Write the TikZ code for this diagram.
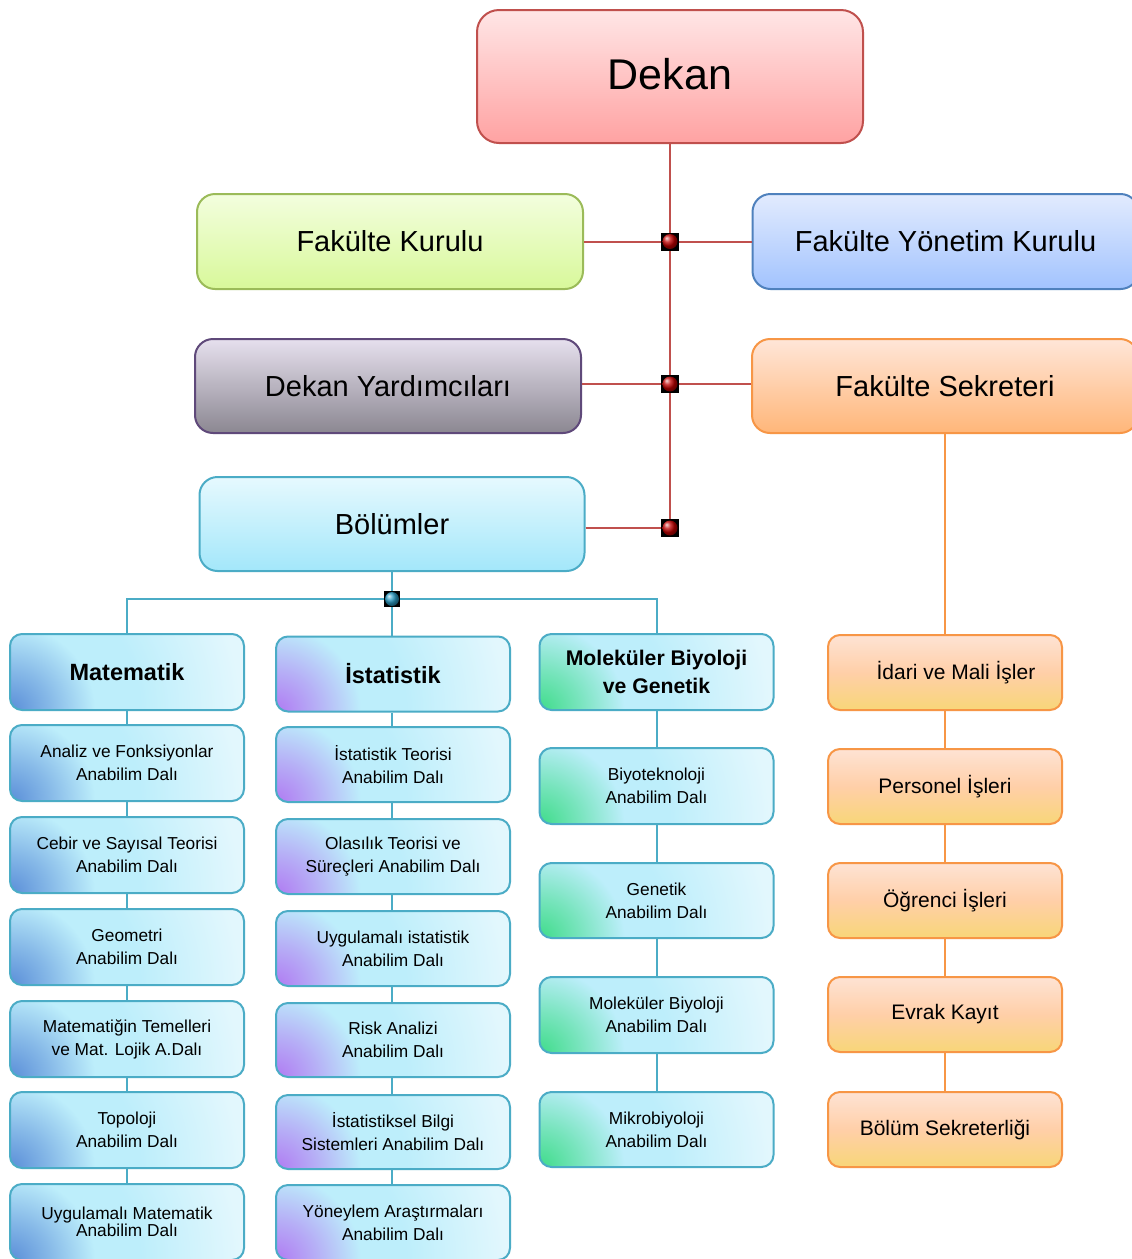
\documentclass[tikz,border=0pt]{standalone}
\usepackage{fontspec}
\setmainfont{Liberation Sans}
\definecolor{redln}{HTML}{C0504D}
\definecolor{blueln}{HTML}{4BACC6}
\definecolor{orln}{HTML}{F79646}
\definecolor{dkT}{HTML}{FFE6E6}
\definecolor{dkB}{HTML}{FFA2A2}
\definecolor{fkT}{HTML}{F3FEDE}
\definecolor{fkB}{HTML}{D8F89A}
\definecolor{fkD}{HTML}{9BBB59}
\definecolor{fyT}{HTML}{E2EBFE}
\definecolor{fyB}{HTML}{A2C3FE}
\definecolor{fyD}{HTML}{4F81BD}
\definecolor{dyT}{HTML}{E6E0EE}
\definecolor{dyB}{HTML}{8B8791}
\definecolor{dyD}{HTML}{5F497A}
\definecolor{fsT}{HTML}{FFE6D8}
\definecolor{fsB}{HTML}{FFB679}
\definecolor{boT}{HTML}{E6F9FE}
\definecolor{boB}{HTML}{A3E7FA}
\definecolor{orT}{HTML}{FEE3D4}
\definecolor{orM}{HTML}{FFCFA8}
\definecolor{orB}{HTML}{F8D678}
\definecolor{matA}{HTML}{5A8ED8}
\definecolor{istA}{HTML}{B07AF2}
\definecolor{molA}{HTML}{3FDC8A}
\definecolor{cyA}{HTML}{BDEEFB}
\definecolor{cyB}{HTML}{CBF2FC}
\definecolor{cyC}{HTML}{E2F7FD}
\definecolor{ballB}{HTML}{2A9CC4}
\pgfdeclareradialshading{matsh}{\pgfpoint{0bp}{0bp}}{color(0bp)=(matA); color(4bp)=(matA!55!cyA); color(8.5bp)=(cyA); color(13bp)=(cyA); color(23bp)=(cyC); color(50bp)=(cyC)}
\pgfdeclareradialshading{istsh}{\pgfpoint{0bp}{0bp}}{color(0bp)=(istA); color(4bp)=(istA!55!cyA); color(8.5bp)=(cyA); color(13bp)=(cyA); color(23bp)=(cyC); color(50bp)=(cyC)}
\pgfdeclareradialshading{molsh}{\pgfpoint{0bp}{0bp}}{color(0bp)=(molA); color(4bp)=(molA!55!cyA); color(8.5bp)=(cyA); color(13bp)=(cyA); color(23bp)=(cyC); color(50bp)=(cyC)}
\tikzset{
  base/.style={rounded corners=18pt, line width=2pt, align=center, inner sep=0pt, text=black},
  dekanbox/.style={base, rounded corners=22pt, draw=redln, top color=dkT, bottom color=dkB,
    minimum width=386pt, minimum height=133pt, font=\fontsize{43}{50}\selectfont},
  bigbox/.style={base, minimum width=386pt, minimum height=95pt, font=\fontsize{29}{34}\selectfont},
  colbox/.style={base, rounded corners=12pt, draw=blueln, minimum width=234pt, minimum height=76pt,
    font=\fontsize{17.3}{23}\selectfont},
  cornershade/.style={path picture={\shade[shading=#1] (path picture bounding box.south west) circle (250pt);}},
  matb/.style={colbox, cornershade=matsh},
  istb/.style={colbox, cornershade=istsh},
  molb/.style={colbox, cornershade=molsh},
  headfont/.style={font=\bfseries\fontsize{23.5}{28}\selectfont},
  orbox/.style={base, rounded corners=12pt, draw=orln, top color=orT, bottom color=orB, middle color=orM,
    minimum width=234pt, minimum height=75pt, font=\fontsize{21}{25}\selectfont},
  redline/.style={draw=redln, line width=2pt},
  blueline/.style={draw=blueln, line width=2pt},
  orline/.style={draw=orln, line width=2pt},
  rjunc/.style={fill=black, minimum size=18pt, inner sep=0pt,
    path picture={\shade[ball color=red!75!black] (path picture bounding box.center) circle (7.5pt);}},
  bjunc/.style={fill=black, minimum size=16pt, inner sep=0pt,
    path picture={\shade[ball color=ballB] (path picture bounding box.center) circle (7pt);}}
}
\begin{document}
\begin{tikzpicture}[x=1pt,y=-1pt]
\useasboundingbox[fill=white] (0,0) rectangle (1132,1259);
% top level
\node[dekanbox] (dekan) at (670,76.5) {\raisebox{5pt}{Dekan}};
\node[bigbox, draw=fkD, top color=fkT, bottom color=fkB] (fk) at (390,241.5) {Fakülte Kurulu};
\node[bigbox, draw=fyD, top color=fyT, bottom color=fyB] (fyk) at (945.5,241.5) {Fakülte Yönetim Kurulu};
\node[bigbox, draw=dyD, top color=dyT, bottom color=dyB, minimum height=94pt] (dy) at (388,386) {Dekan Yardımcıları};
\node[bigbox, draw=orln, top color=fsT, bottom color=fsB, minimum height=94pt] (fs) at (945,386) {Fakülte Sekreteri};
\node[bigbox, draw=blueln, top color=boT, bottom color=boB, minimum height=94pt, minimum width=385pt] (bol) at (392,524) {Bölümler};
% column 1
\node[matb, headfont] (mat) at (127,672) {Matematik};
\node[matb] (m1) at (127,763) {Analiz ve Fonksiyonlar\\Anabilim Dalı};
\node[matb] (m2) at (127,855) {Cebir ve Sayısal Teorisi\\Anabilim Dalı};
\node[matb] (m3) at (127,947) {Geometri\\Anabilim Dalı};
\node[matb] (m4) at (127,1039) {Matematiğin Temelleri\\ve Mat. Lojik A.Dalı};
\node[matb] (m5) at (127,1130) {Topoloji\\Anabilim Dalı};
\node[matb, font=\fontsize{17.3}{17}\selectfont] (m6) at (127,1222) {Uygulamalı Matematik\\Anabilim Dalı};
% column 2
\node[istb, headfont, minimum height=75pt] (ist) at (393,674) {İstatistik};
\node[istb, minimum height=75pt] (s1) at (393,764.5) {İstatistik Teorisi\\Anabilim Dalı};
\node[istb, minimum height=75pt] (s2) at (393,856.5) {Olasılık Teorisi ve\\Süreçleri Anabilim Dalı};
\node[istb, minimum height=75pt] (s3) at (393,948.5) {Uygulamalı istatistik\\Anabilim Dalı};
\node[istb, minimum height=74pt] (s4) at (393,1040) {Risk Analizi\\Anabilim Dalı};
\node[istb, minimum height=74pt] (s5) at (393,1132) {İstatistiksel Bilgi\\Sistemleri Anabilim Dalı};
\node[istb, minimum height=75pt] (s6) at (393,1222.5) {Yöneylem Araştırmaları\\Anabilim Dalı};
% column 3
\node[molb, font=\bfseries\fontsize{21.2}{28}\selectfont] (mol) at (656.5,672) {Moleküler Biyoloji\\ve Genetik};
\node[molb] (b1) at (656.5,786) {Biyoteknoloji\\Anabilim Dalı};
\node[molb, minimum height=75pt] (b2) at (656.5,900.5) {Genetik\\Anabilim Dalı};
\node[molb] (b3) at (656.5,1015) {Moleküler Biyoloji\\Anabilim Dalı};
\node[molb, minimum height=75pt] (b4) at (656.5,1129.5) {Mikrobiyoloji\\Anabilim Dalı};
% column 4
\node[orbox] (o1) at (945,672.5) {\kern22pt İdari ve Mali İşler};
\node[orbox] (o2) at (945,786.5) {Personel İşleri};
\node[orbox] (o3) at (945,900.5) {Öğrenci İşleri};
\node[orbox] (o4) at (945,1014.5) {Evrak Kayıt};
\node[orbox] (o5) at (945,1129.5) {Bölüm Sekreterliği};
% junction points
\coordinate (jr1) at (670,241.5);
\coordinate (jr2) at (670,384);
\coordinate (jr3) at (670,528);
\coordinate (jb) at (392,599);
% red connectors
\draw[redline] (dekan.south) -- (jr3);
\draw[redline] (fk.east) -- (fyk.west);
\draw[redline] (dy.east |- jr2) -- (fs.west |- jr2);
\draw[redline] (bol.east |- jr3) -- (jr3);
% blue connectors
\draw[blueline] (bol.south) -- (jb);
\draw[blueline] (mat.north) |- (jb) -| (mol.north);
\draw[blueline] (jb) -- (jb |- ist.north);
\foreach \a/\b in {mat/m1,m1/m2,m2/m3,m3/m4,m4/m5,m5/m6,mol/b1,b1/b2,b2/b3,b3/b4}
  \draw[blueline] (\a.south) -- (\b.north);
\foreach \a/\b in {ist/s1,s1/s2,s2/s3,s3/s4,s4/s5,s5/s6}
  \draw[blueline] (\a.south -| jb) -- (\b.north -| jb);
% orange connectors
\draw[orline] (fs.south) -- (o1.north);
\foreach \a/\b in {o1/o2,o2/o3,o3/o4,o4/o5}
  \draw[orline] (\a.south) -- (\b.north);
% junction markers
\node[rjunc] (k1) at (jr1) {};
\node[rjunc] (k2) at (jr2) {};
\node[rjunc] (k3) at (jr3) {};
\node[bjunc] (k4) at (jb) {};
\end{tikzpicture}
\end{document}
